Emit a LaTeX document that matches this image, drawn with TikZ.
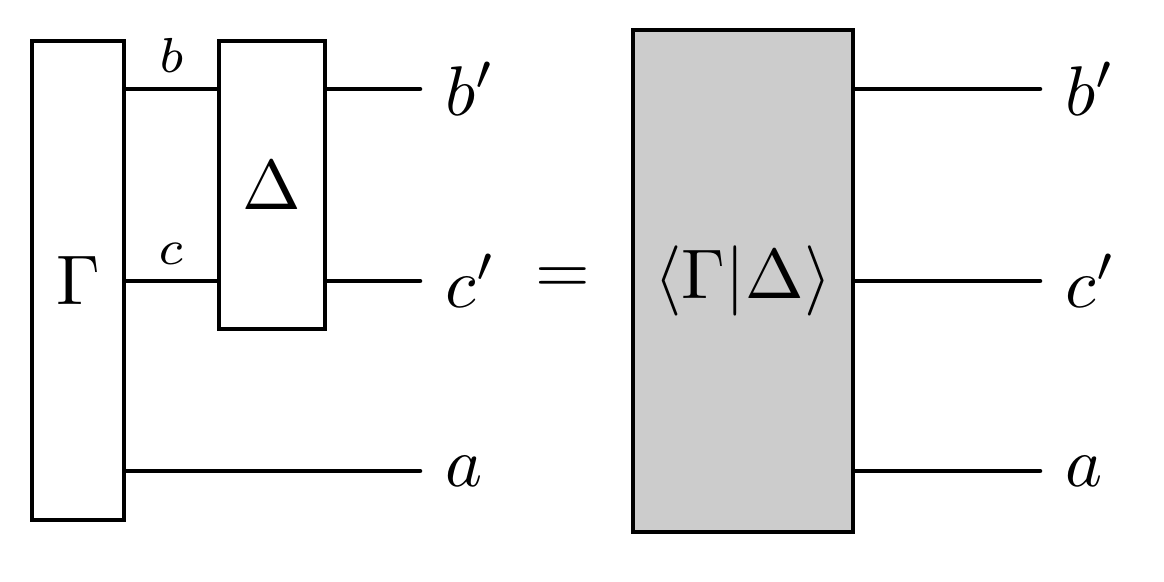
\documentclass[tikz,border=0pt]{standalone}
\begin{document}
\begin{tikzpicture}[line width=0.65pt,
  box/.style={draw, rectangle, inner sep=0pt},
  wire/.style={line cap=round}]
\useasboundingbox (0,0) rectangle (5.82,2.91);

% Wire levels
\coordinate (yb) at (0,2.465);
\coordinate (yc) at (0,1.505);
\coordinate (ya) at (0,0.555);

% Left side: Gamma then Delta
\node[box, minimum width=0.46cm, minimum height=2.395cm] (G) at (0.39,1.5075) {$\Gamma$};
\node[box, minimum width=0.53cm, minimum height=1.44cm] (D) at (1.36,1.985) {$\Delta$};

% Outputs (left)
\node[anchor=west] (bL) at (2.10,2.465) {$b'$};
\node[anchor=west] (cL) at (2.10,1.505) {$c'$};
\node[anchor=west] (aL) at (2.10,0.555) {$a$};

\draw[wire] (G.east |- yb) -- node[above, inner sep=2pt] {\scriptsize$b$} (D.west |- yb);
\draw[wire] (G.east |- yc) -- node[above, inner sep=2pt] {\scriptsize$c$} (D.west |- yc);
\draw[wire] (D.east |- yb) -- (bL.west);
\draw[wire] (D.east |- yc) -- (cL.west);
\draw[wire] (G.east |- ya) -- (aL.west);

% Equals sign
\node (eq) at (2.815,1.505) {$=$};

% Right side: the composite
\node[box, fill=black!20, minimum width=1.10cm, minimum height=2.51cm] (GD) at (3.715,1.505) {$\langle\Gamma|\Delta\rangle$};

% Outputs (right)
\node[anchor=west] (bR) at (5.20,2.465) {$b'$};
\node[anchor=west] (cR) at (5.20,1.505) {$c'$};
\node[anchor=west] (aR) at (5.20,0.555) {$a$};

\draw[wire] (GD.east |- yb) -- (bR.west);
\draw[wire] (GD.east |- yc) -- (cR.west);
\draw[wire] (GD.east |- ya) -- (aR.west);

\end{tikzpicture}
\end{document}
